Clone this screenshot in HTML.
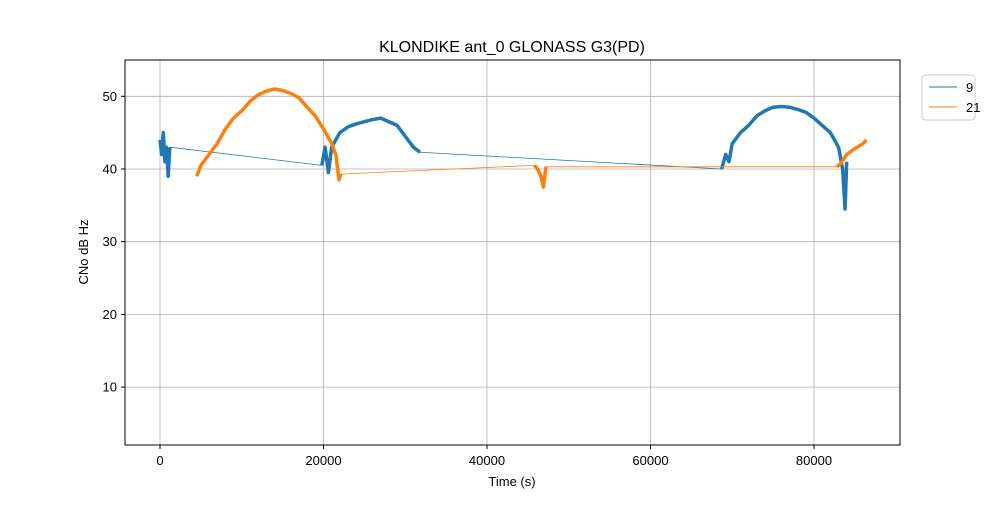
<!DOCTYPE html>
<html><head><meta charset="utf-8"><style>
body{margin:0;background:#fff;font-family:"Liberation Sans","DejaVu Sans",sans-serif;}
</style></head><body>
<svg width="1000" height="500" xmlns="http://www.w3.org/2000/svg" font-family="Liberation Sans, DejaVu Sans, sans-serif">
<rect width="1000" height="500" fill="#fff"/>
<g id="grid"></g>
<g id="plot"></g>
<rect x="125" y="60" width="775" height="385" fill="none" stroke="#000" stroke-width="1"/>
<g id="ticks"></g>
<text x="512" y="52" font-size="16" text-anchor="middle">KLONDIKE ant_0 GLONASS G3(PD)</text>
<text x="512" y="486" font-size="13" text-anchor="middle">Time (s)</text>
<text transform="translate(88,252) rotate(-90)" font-size="13" text-anchor="middle">CNo dB Hz</text>
<g>
<rect x="922" y="75" width="53" height="45" rx="3" fill="#fff" stroke="#ccc"/>
<g><line x1="929" y1="87" x2="957" y2="87" stroke="#1f77b4" stroke-width="1"/><text x="966" y="92" font-size="13">9</text></g>
<g><line x1="929" y1="107" x2="957" y2="107" stroke="#ff7f0e" stroke-width="1"/><text x="966" y="112" font-size="13">21</text></g>
</g>
</svg>
<script>
const xTicks=[0,20000,40000,60000,80000];
const yTicks=[10,20,30,40,50];
const s9seg1=[[0,44],[200,42],[400,45],[600,41],[800,43],[1000,39],[1200,43]];
const s9seg2=[[19800,40.5],[20200,43],[20600,39.5],[21000,43],[21500,44],[22000,45],[23000,45.8],[24000,46.2],[25000,46.5],[26000,46.8],[27000,47],[28000,46.5],[29000,46],[30000,44.5],[31000,43],[31800,42.3]];
const s9seg3=[[68700,40],[69200,42],[69600,41],[70000,43.5],[71000,45],[72000,46],[73000,47.3],[74000,48],[75000,48.5],[76000,48.6],[77000,48.5],[78000,48.2],[79000,47.8],[80000,47],[81000,46],[82000,45],[83000,43],[83500,40],[83800,34.5],[84000,41]];
const s21seg1=[[4500,39],[5000,40.5],[6000,42],[7000,43.5],[8000,45.5],[9000,47],[10000,48],[11000,49.3],[12000,50.2],[13000,50.7],[14000,51],[15000,50.8],[16000,50.4],[17000,49.8],[18000,48.5],[19000,47.3],[20000,45.5],[21000,43.5],[21500,42],[21900,38.5],[22100,39.3]];
const s21seg2=[[45800,40.5],[46200,40],[46600,39],[46900,37.5],[47200,40.3]];
const s21seg3=[[82800,40.3],[83300,40.8],[84000,42],[85000,42.8],[86000,43.5],[86400,44]];
const X=t=>160+t*(163.5/20000);
const Y=v=>169-(v-40)*7.27;
const NS="http://www.w3.org/2000/svg";
const grid=document.getElementById('grid'),ticks=document.getElementById('ticks'),plot=document.getElementById('plot');
function mk(tag,attrs,parent){const e=document.createElementNS(NS,tag);for(const k in attrs)e.setAttribute(k,attrs[k]);parent.appendChild(e);return e;}
xTicks.forEach(t=>{const x=X(t);
const g=mk('line',{x1:x,x2:x,y1:60,y2:445,stroke:'#b0b0b0','stroke-width':0.8},grid);


mk('line',{x1:x,x2:x,y1:445,y2:449,stroke:'#000'},ticks);
const tx=mk('text',{x:x,y:465,'font-size':13,'text-anchor':'middle'},ticks);tx.textContent=t;

});
yTicks.forEach(v=>{const y=Y(v);
const g=mk('line',{x1:125,x2:900,y1:y,y2:y,stroke:'#b0b0b0','stroke-width':0.8},grid);


mk('line',{x1:121,x2:125,y1:y,y2:y,stroke:'#000'},ticks);
const tx=mk('text',{x:117,y:y+4.5,'font-size':13,'text-anchor':'end'},ticks);tx.textContent=v;

});
function draw(segs,color,name){const all=[].concat(...segs);
const thin=mk('polyline',{points:all.map(p=>X(p[0])+','+Y(p[1])).join(' '),fill:'none',stroke:color,'stroke-width':0.8},plot);


segs.forEach(s=>{const p=mk('polyline',{points:s.map(q=>X(q[0])+','+Y(q[1])).join(' '),fill:'none',stroke:color,'stroke-width':3.5,'stroke-linejoin':'round'},plot);

});}
draw([s9seg1,s9seg2,s9seg3],'#1f77b4','series-9');
draw([s21seg1,s21seg2,s21seg3],'#ff7f0e','series-21');
</script>
</body></html>
